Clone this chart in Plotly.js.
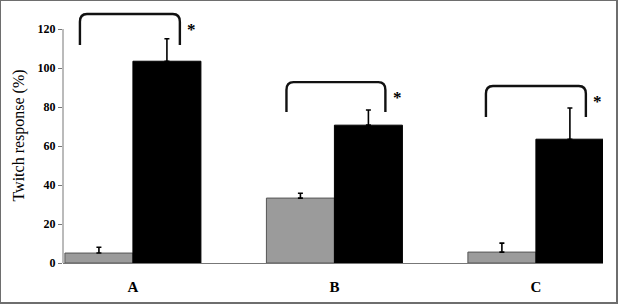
<!DOCTYPE html>
<html>
<head>
<meta charset="utf-8">
<script src="https://cdn.plot.ly/plotly-3.0.1.min.js"></script>
<style>
html,body{margin:0;padding:0;background:#fff;}
#frame{width:618px;height:304px;box-sizing:border-box;border:2px solid #6e6e6e;border-top-width:1px;border-left-width:1px;}
#chart{width:615px;height:301px;}
</style>
</head>
<body>
<div id="frame"><div id="chart"></div></div>
<script>
// Data
var categories = ['A', 'B', 'C'];
var controlValues = [5.1, 33.3, 5.6];
var controlErrors = [3.0, 2.5, 4.6];
var treatedValues = [103.5, 70.7, 63.5];
var treatedErrors = [11.5, 7.8, 16.0];
var significance = ['*', '*', '*'];

var xIdx = categories.map(function (c, i) { return i; });

// bracket geometry (offsets relative to category index, heights in y units)
var bracketLeft = [-0.263, -0.238, -0.248];
var bracketRight = [0.233, 0.253, 0.248];
var bracketTop = [127.7, 92.8, 90.8];
var bracketBottom = [111.8, 77.4, 74.9];

var traces = [
  {
    type: 'bar', x: xIdx, y: controlValues, name: 'control',
    marker: {color: '#9b9b9b', line: {color: '#555', width: 1}},
    error_y: {type: 'data', symmetric: false, array: controlErrors,
      arrayminus: controlErrors.map(function () { return 0; }),
      color: '#000', thickness: 1.6, width: 2.5}
  },
  {
    type: 'bar', x: xIdx, y: treatedValues, name: 'treated',
    marker: {color: '#000', line: {color: '#000', width: 1}},
    error_y: {type: 'data', symmetric: false, array: treatedErrors,
      arrayminus: treatedErrors.map(function () { return 0; }),
      color: '#000', thickness: 1.6, width: 2.5}
  }
];

var shapes = [
  {type: 'line', xref: 'paper', yref: 'y', x0: 0, x1: 0, y0: 0, y1: 120,
   line: {color: '#777', width: 1}}
];
var annotations = [];
var rx = 0.035, ry = 4;
for (var i = 0; i < categories.length; i++) {
  var x0 = i + bracketLeft[i], x1 = i + bracketRight[i];
  var yt = bracketTop[i], yb = bracketBottom[i];
  var p = 'M' + x0 + ',' + yb + ' L' + x0 + ',' + (yt - ry) +
    ' Q' + x0 + ',' + yt + ' ' + (x0 + rx) + ',' + yt +
    ' L' + (x1 - rx) + ',' + yt +
    ' Q' + x1 + ',' + yt + ' ' + x1 + ',' + (yt - ry) +
    ' L' + x1 + ',' + yb;
  shapes.push({type: 'path', xref: 'x', yref: 'y', path: p,
    line: {color: '#111', width: 2.4}});
  annotations.push({x: x1 + 0.058, y: yt - 7.8, xref: 'x', yref: 'y',
    text: '<b>' + significance[i] + '</b>', showarrow: false,
    font: {family: 'Liberation Serif', size: 17, color: '#000'}});
}

var layout = {
  width: 615, height: 301,
  margin: {l: 62, r: 13, t: 7, b: 39},
  paper_bgcolor: '#fff', plot_bgcolor: '#fff',
  showlegend: false,
  barmode: 'group', bargap: 0.325, bargroupgap: 0,
  font: {family: 'Liberation Serif', color: '#000'},
  xaxis: {
    type: 'linear', range: [-0.347, 2.333],
    tickvals: xIdx, ticktext: categories.map(function (c) { return '<b>' + c + '</b>'; }),
    tickfont: {family: 'Liberation Serif', size: 15, color: '#000'},
    ticks: '', ticklabelstandoff: 10,
    showgrid: false, zeroline: false,
    showline: true, linecolor: '#777', linewidth: 1
  },
  yaxis: {
    range: [0, 130.8], tickvals: [0, 20, 40, 60, 80, 100, 120],
    ticktext: ['<b>0</b>', '<b>20</b>', '<b>40</b>', '<b>60</b>', '<b>80</b>', '<b>100</b>', '<b>120</b>'],
    ticks: 'outside', ticklen: 4, tickcolor: '#777', tickwidth: 1,
    tickfont: {family: 'Liberation Serif', size: 12, color: '#000'},
    showgrid: false, zeroline: false, showline: false,
    title: {text: 'Twitch response (%)', font: {family: 'Liberation Serif', size: 16, color: '#000'}, standoff: 8}
  },
  shapes: shapes,
  annotations: annotations
};

Plotly.newPlot('chart', traces, layout, {displayModeBar: false, staticPlot: true});
</script>
</body>
</html>
